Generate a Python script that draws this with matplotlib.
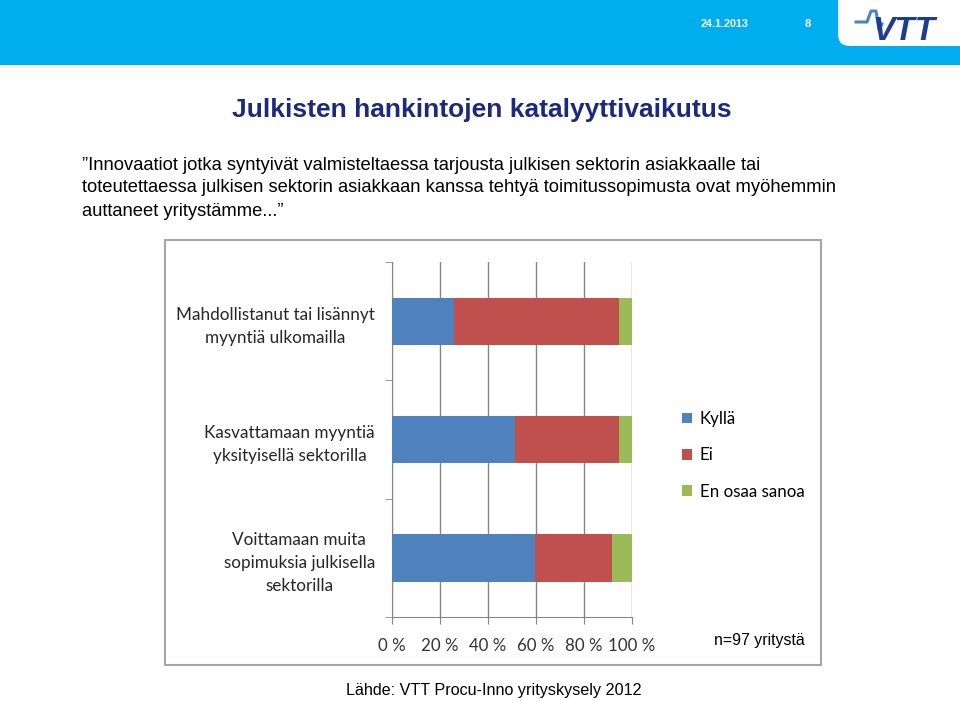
import matplotlib.pyplot as plt
from matplotlib.patches import Rectangle, FancyBboxPatch

categories = ["Mahdollistanut tai lisännyt\nmyyntiä ulkomailla",
              "Kasvattamaan myyntiä\nyksityisellä sektorilla",
              "Voittamaan muita\nsopimuksia julkisella\nsektorilla"]
kylla = [25.8, 51.5, 59.8]
ei = [69.1, 43.3, 32.0]
en_osaa = [5.1, 5.2, 8.2]
series_names = ["Kyllä", "Ei", "En osaa sanoa"]
colors = ["#4F81BD", "#C0504D", "#9BBB59"]
xticks = [0, 20, 40, 60, 80, 100]
xtick_labels = ["0 %", "20 %", "40 %", "60 %", "80 %", "100 %"]

W, H = 960, 701
fig = plt.figure(figsize=(W / 100, H / 100), dpi=100)

# slide background drawn in pixel coordinates
bg = fig.add_axes([0, 0, 1, 1])
bg.set_xlim(0, W)
bg.set_ylim(H, 0)
bg.axis("off")

bg.add_patch(Rectangle((0, 0), W, 65, color="#00AEEF", lw=0))
bg.add_patch(FancyBboxPatch((838, -40), 200, 86,
                            boxstyle="round,pad=0,rounding_size=12",
                            fc="white", ec="none"))
bg.text(701, 24, "24.1.2013", color="white", fontsize=7.8, va="center",
        family="Liberation Sans", fontweight="bold")
bg.text(805, 24, "8", color="white", fontsize=8, va="center",
        family="Liberation Sans", fontweight="bold")
bg.plot([856, 867, 871, 876, 879, 882], [22, 22, 11, 11, 30, 24],
        color="#4A86C5", lw=2.2)
bg.text(872, 31, "VTT", color="#1F3D8F", fontsize=24, fontweight="heavy",
        fontstyle="italic", va="center", family="Liberation Sans")

bg.text(232, 110, "Julkisten hankintojen katalyyttivaikutus", color="#1B2A7F",
        fontsize=19, fontweight="bold", va="center", family="Liberation Sans")
lines = ["\u201dInnovaatiot jotka syntyivät valmisteltaessa tarjousta julkisen sektorin asiakkaalle tai",
         "toteutettaessa julkisen sektorin asiakkaan kanssa tehtyä toimitussopimusta ovat myöhemmin",
         "auttaneet yritystämme...\u201d"]
for i, ln in enumerate(lines):
    bg.text(82, 165 + 23 * i, ln, fontsize=13.2, va="center",
            family="Liberation Sans")

# chart frame
bg.add_patch(Rectangle((165, 240), 656, 425, fc="white", ec="#A6A6A6", lw=1.5))
bg.text(714, 641, "n=97 yritystä", fontsize=11.4, va="center",
        family="Liberation Sans")
bg.text(494, 690, "Lähde: VTT Procu-Inno yrityskysely 2012", fontsize=11.6,
        va="center", ha="center", family="Liberation Sans")

# bar chart
ax = fig.add_axes([391.7 / W, 1 - 617 / H, 240 / W, 355 / H])
ax.patch.set_alpha(0)
ypos = list(range(len(categories)))
left = [0] * len(categories)
for vals, name, c in zip([kylla, ei, en_osaa], series_names, colors):
    ax.barh(ypos, vals, left=left, height=0.4, color=c, label=name, zorder=3)
    left = [l + v for l, v in zip(left, vals)]

ax.set_xlim(0, 100)
ax.set_ylim(2.5, -0.5)
ax.set_xticks(xticks)
ax.set_xticklabels(xtick_labels, family="Lato", fontsize=12.2, color="#333333")
ax.set_yticks(ypos)
ax.set_yticklabels(categories, family="Lato", fontsize=12.3, color="#262626")
for t in ax.get_yticklabels():
    t.set_multialignment("center")
    t.set_linespacing(1.55)
ax.set_yticks([-0.5, 0.5, 1.5, 2.5], minor=True)
ax.tick_params(axis="y", which="major", length=0, pad=12)
ax.tick_params(axis="y", which="minor", length=5, color="#868686")
ax.tick_params(axis="x", length=5, color="#868686", pad=10)
ax.grid(axis="x", color="#868686", lw=1, zorder=0)
for s in ["top", "right"]:
    ax.spines[s].set_visible(False)
for s in ["left", "bottom"]:
    ax.spines[s].set_color("#868686")

ax.legend(loc="upper left", bbox_to_anchor=(682 / W, 1 - 411 / H),
          bbox_transform=fig.transFigure, frameon=False, borderaxespad=0,
          borderpad=0, handlelength=0.6, handleheight=0.6, handletextpad=0.45,
          labelspacing=1.2, prop={"family": "Lato", "size": 12.2})

fig.savefig("out.png", dpi=100)
